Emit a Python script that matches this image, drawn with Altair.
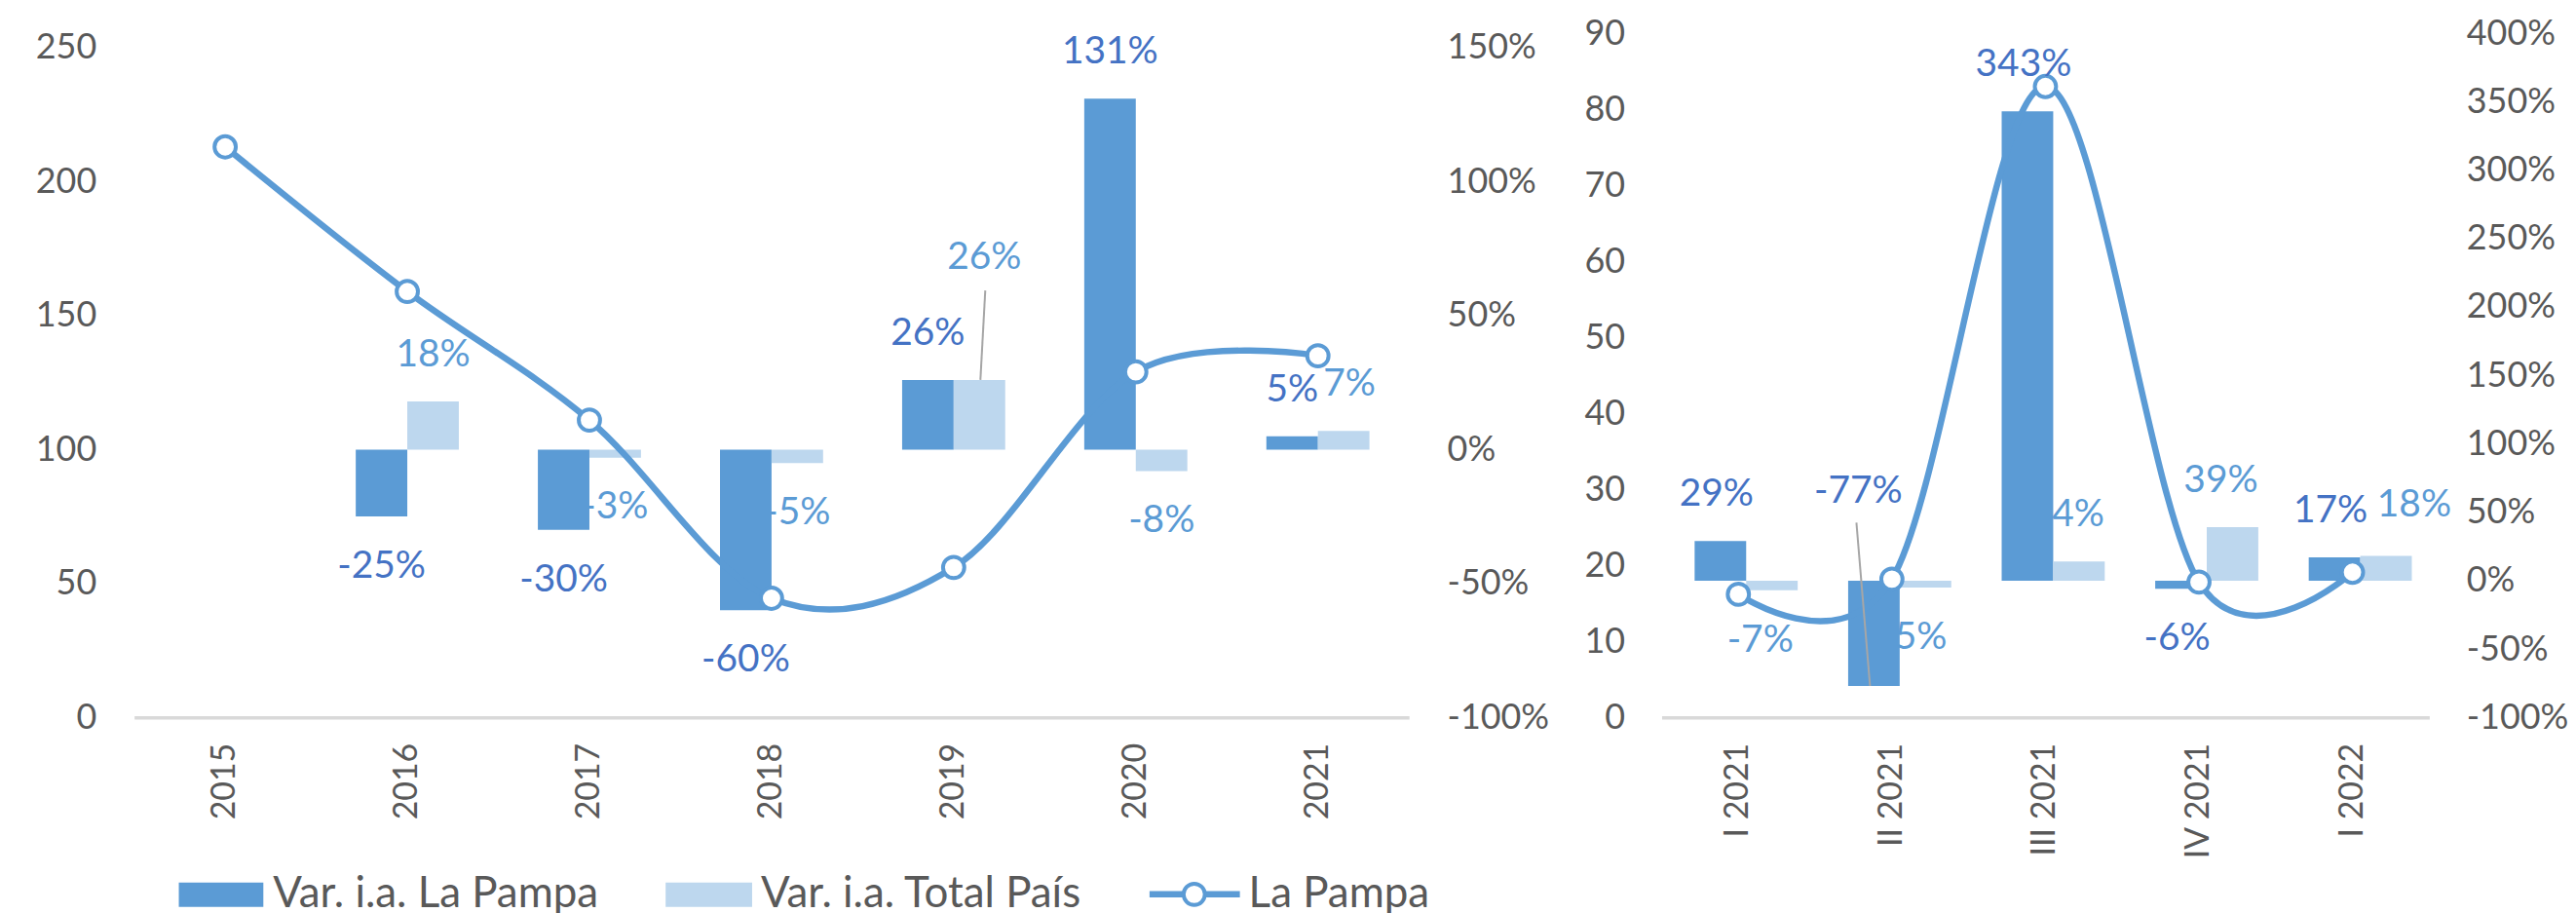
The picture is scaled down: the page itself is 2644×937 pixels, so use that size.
import altair as alt
import pandas as pd

FONT = "Lato"
DARK = "#5B9BD5"
LIGHT = "#BDD7EE"
LBL_LP = "#4472C4"
LBL_TP = "#5B9BD5"
AXIS_TXT = "#595959"
BASE = "#D9D9D9"
LEADER = "#A6A6A6"
AX_FS = 36
X_FS = 34
LBL_FS = 39
LEG_FS = 44

# ---------------- annual panel ----------------
years = ["2015", "2016", "2017", "2018", "2019", "2020", "2021"]
lp_level_annual = [213, 159, 111, 44.5, 56, 129, 135]
lp_var_annual = [None, -25, -30, -60, 26, 131, 5]
tp_var_annual = [None, 18, -3, -5, 26, -8, 7]
left_ticks_annual = [0, 50, 100, 150, 200, 250]
right_ticks_annual = [-100, -50, 0, 50, 100, 150]

# ---------------- quarterly panel ----------------
quarters = ["I 2021", "II 2021", "III 2021", "IV 2021", "I 2022"]
lp_level_q = [16.2, 18.2, 83, 17.8, 19.1]
lp_var_q = [29, -77, 343, -6, 17]
tp_var_q = [-7, -5, 14, 39, 18]
left_ticks_q = [0, 10, 20, 30, 40, 50, 60, 70, 80, 90]
right_ticks_q = [-100, -50, 0, 50, 100, 150, 200, 250, 300, 350, 400]

series = ["lp", "tp"]
legend_labels = ["Var. i.a. La Pampa", "Var. i.a. Total País", "La Pampa"]

LINE_W = 6.5
MARK_SIZE = 480
MARK_SW = 4


def build_panel(cats, level, var_lp, var_tp, lev_dom, lev_ticks, pct_dom, pct_ticks,
                width, height, pad_inner, left_ext, right_ext, lab_pad_l, lab_pad_r,
                specials, leaders, legend=False):
    level_df = pd.DataFrame({"cat": cats, "level": level})
    rows = []
    for c, a, b in zip(cats, var_lp, var_tp):
        if a is not None:
            rows.append({"cat": c, "serie": "lp", "pct": a, "label": f"{a}%"})
        if b is not None:
            rows.append({"cat": c, "serie": "tp", "pct": b, "label": f"{b}%"})
    bar_df = pd.DataFrame(rows)

    xscale = alt.Scale(domain=cats, paddingInner=pad_inner, paddingOuter=pad_inner / 2)
    xaxis = alt.Axis(title=None, labelAngle=270, labelFont=FONT, labelFontSize=X_FS,
                     labelColor=AXIS_TXT, labelPadding=26, ticks=False, domain=True,
                     domainColor=BASE, domainWidth=3.5, grid=False)

    def X(bp=None):
        kw = dict(scale=xscale, axis=xaxis, title=None)
        if bp is not None:
            kw["bandPosition"] = bp
        return alt.X("cat:N", **kw)

    pct_scale = alt.Scale(domain=pct_dom, nice=False, zero=False)
    lev_scale = alt.Scale(domain=lev_dom, nice=False, zero=False)

    bars = alt.Chart(bar_df).mark_bar().encode(
        x=X(),
        xOffset=alt.XOffset("serie:N", scale=alt.Scale(domain=series, paddingInner=0, paddingOuter=0)),
        y=alt.Y("pct:Q", scale=pct_scale,
                axis=alt.Axis(orient="right", values=pct_ticks, labelExpr="datum.value + '%'",
                              labelPadding=lab_pad_r, minExtent=right_ext, title=None,
                              labelFont=FONT, labelFontSize=AX_FS, labelColor=AXIS_TXT,
                              ticks=False, domain=False, grid=False)),
        y2=alt.datum(0),
        color=alt.Color("serie:N", scale=alt.Scale(domain=series, range=[DARK, LIGHT]), legend=None),
    )

    line = alt.Chart(level_df).mark_line(color=DARK, strokeWidth=LINE_W, interpolate="cardinal").encode(
        x=X(),
        y=alt.Y("level:Q", scale=lev_scale,
                axis=alt.Axis(orient="left", values=lev_ticks, labelPadding=lab_pad_l,
                              minExtent=left_ext, title=None, labelFont=FONT,
                              labelFontSize=AX_FS, labelColor=AXIS_TXT, ticks=False,
                              domain=False, grid=False)),
    )
    pts = alt.Chart(level_df).mark_point(shape="circle", fill="white", stroke=DARK,
                                         strokeWidth=MARK_SW, size=MARK_SIZE, opacity=1,
                                         fillOpacity=1).encode(
        x=X(), y=alt.Y("level:Q", scale=lev_scale, axis=None))

    layers = [bars, line, pts]

    cat_col = bar_df["cat"]
    ser_col = bar_df["serie"]
    pct_col = bar_df["pct"]

    # leader lines (from bar end to below the displaced label)
    for (c, s, xoff, x2off, length) in leaders:
        sub = bar_df[(cat_col == c) & (ser_col == s)]
        bp = 0.25 if s == "lp" else 0.75
        layers.append(
            alt.Chart(sub).mark_rule(color=LEADER, strokeWidth=2, xOffset=xoff,
                                     x2Offset=x2off, y2Offset=-length).encode(
                x=X(bp), x2=alt.X2("cat:N", bandPosition=bp),
                y=alt.Y("pct:Q", scale=pct_scale, axis=None), y2=alt.Y2("pct:Q")))

    # data labels
    special_keys = set(specials.keys())
    is_special = pd.Series([(c, s) in special_keys for c, s in zip(cat_col, ser_col)],
                           index=bar_df.index)
    for s, color, bp in [("lp", LBL_LP, 0.25), ("tp", LBL_TP, 0.75)]:
        for positive in (True, False):
            sign_mask = (pct_col >= 0) if positive else (pct_col < 0)
            sub = bar_df[(ser_col == s) & (~is_special) & sign_mask]
            if len(sub) == 0:
                continue
            dy = -48 if positive else 51
            layers.append(
                alt.Chart(sub).mark_text(font=FONT, fontSize=LBL_FS, color=color, dy=dy,
                                         baseline="middle", align="center").encode(
                    x=X(bp), y=alt.Y("pct:Q", scale=pct_scale, axis=None), text="label:N"))
    for (c, s), (dx, dy) in specials.items():
        sub = bar_df[(cat_col == c) & (ser_col == s)]
        color = LBL_LP if s == "lp" else LBL_TP
        bp = 0.25 if s == "lp" else 0.75
        layers.append(
            alt.Chart(sub).mark_text(font=FONT, fontSize=LBL_FS, color=color, dx=dx, dy=dy,
                                     baseline="middle", align="center").encode(
                x=X(bp), y=alt.Y("pct:Q", scale=pct_scale, axis=None), text="label:N"))

    if legend:
        one = pd.DataFrame({"t": legend_labels})
        ly = 886
        layers.append(alt.Chart(one.iloc[[0]]).mark_rect(color=DARK).encode(
            x=alt.value(46), x2=alt.value(133), y=alt.value(ly - 12), y2=alt.value(ly + 13)))
        layers.append(alt.Chart(one.iloc[[1]]).mark_rect(color=LIGHT).encode(
            x=alt.value(547), x2=alt.value(636), y=alt.value(ly - 12), y2=alt.value(ly + 13)))
        layers.append(alt.Chart(one.iloc[[2]]).mark_rule(color=DARK, strokeWidth=LINE_W).encode(
            x=alt.value(1045), x2=alt.value(1138), y=alt.value(ly)))
        layers.append(alt.Chart(one.iloc[[2]]).mark_point(shape="circle", fill="white", stroke=DARK,
                                                          strokeWidth=MARK_SW, size=MARK_SIZE, opacity=1,
                                                          fillOpacity=1).encode(
            x=alt.value(1091), y=alt.value(ly)))
        for i, xpos in enumerate([143, 645, 1147]):
            layers.append(alt.Chart(one.iloc[[i]]).mark_text(
                font=FONT, fontSize=LEG_FS, color=AXIS_TXT, align="left", baseline="middle").encode(
                x=alt.value(xpos), y=alt.value(ly), text="t:N"))

    return alt.layer(*layers).resolve_scale(y="independent").properties(width=width, height=height)


H = 704
left = build_panel(
    years, lp_level_annual, lp_var_annual, tp_var_annual,
    lev_dom=[0, 255.4], lev_ticks=left_ticks_annual,
    pct_dom=[-100, 155.4], pct_ticks=right_ticks_annual,
    width=1312, height=H, pad_inner=0.434, left_ext=130, right_ext=142,
    lab_pad_l=39, lab_pad_r=39,
    specials={("2019", "tp"): (5, -126), ("2021", "tp"): (6, -48)},
    leaders=[("2019", "tp", 1, 6, 92)],
    legend=True,
)
right = build_panel(
    quarters, lp_level_q, lp_var_q, tp_var_q,
    lev_dom=[0, 90], lev_ticks=left_ticks_q,
    pct_dom=[-100, 400], pct_ticks=right_ticks_q,
    width=790, height=H, pad_inner=0.43, left_ext=116, right_ext=131,
    lab_pad_l=38, lab_pad_r=38,
    specials={("II 2021", "lp"): (-12, -201), ("I 2022", "tp"): (41, -53)},
    leaders=[("II 2021", "lp", 0, -14, 168)],
)

chart = alt.hconcat(left, right, spacing=0).properties(
    padding={"left": 0, "top": 7, "right": 0, "bottom": 0}
).configure_view(stroke=None)

chart.save("out.html", embed_options={"renderer": "svg", "actions": False})
